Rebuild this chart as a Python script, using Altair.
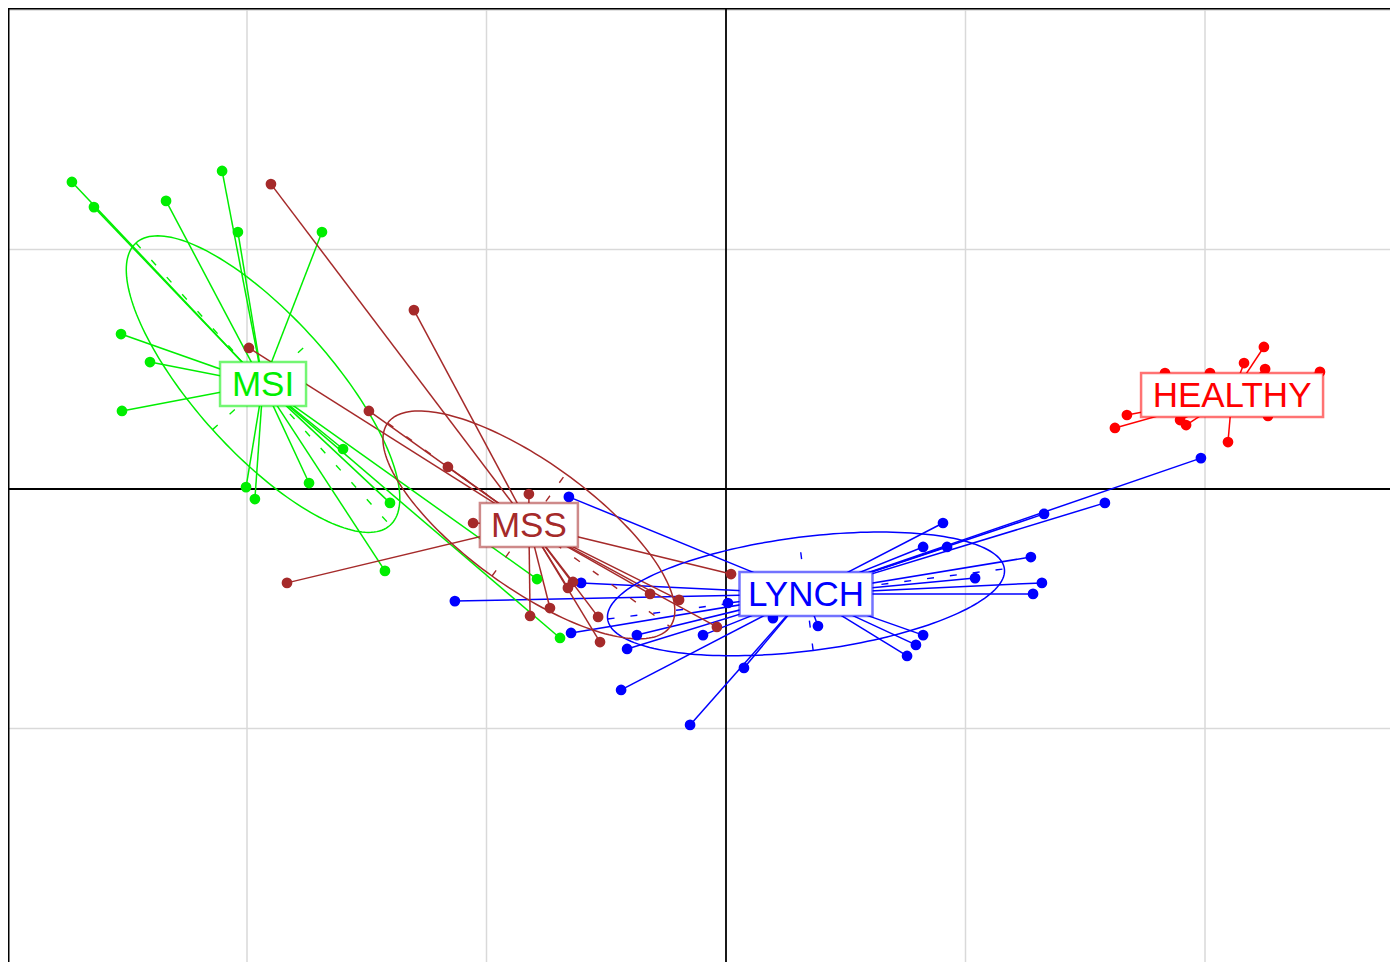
import altair as alt
import pandas as pd
import numpy as np

# ---------------- data (grid step = 1 unit) ----------------
groups = ["HEALTHY", "LYNCH", "MSI", "MSS"]
colors = ["#FF0000", "#0000FF", "#00EE00", "#A52A2A"]

healthy_x = [2.246, 2.163, 2.251, 2.480, 2.021, 1.833, 1.674, 1.624, 1.896, 1.921, 2.096, 2.263]
healthy_y = [0.593, 0.526, 0.501, 0.489, 0.484, 0.484, 0.309, 0.255, 0.288, 0.267, 0.196, 0.305]

lynch_x = [-0.656, 0.906, 0.823, 0.923, 1.328, 1.582, 1.983, 1.273, 1.040, 1.319, 1.282, 0.823, 0.793,
           0.756, 0.384, 0.196, 0.008, 0.075, -0.150, -0.438, -0.096, -0.372, -0.413, -0.647, -1.132, -0.605]
lynch_y = [-0.033, -0.142, -0.242, -0.242, -0.104, -0.058, 0.129, -0.284, -0.372, -0.392, -0.438, -0.610, -0.651,
           -0.697, -0.572, -0.539, -0.476, -0.747, -0.985, -0.839, -0.610, -0.610, -0.668, -0.601, -0.468, -0.392]

msi_x = [-2.731, -2.639, -2.338, -2.104, -2.038, -1.687, -2.526, -2.405, -2.522, -1.599, -1.741, -2.004,
         -1.967, -1.403, -1.424, -0.789, -0.693]
msi_y = [1.282, 1.177, 1.203, 1.328, 1.073, 1.073, 0.647, 0.530, 0.326, 0.167, 0.025, 0.008,
         -0.042, -0.058, -0.342, -0.376, -0.622]

mss_x = [-1.900, -1.303, -1.992, -1.491, -1.161, -0.823, -1.056, -1.833, -0.639, -0.660, -0.735, -0.818,
         -0.534, -0.526, -0.317, -0.196, -0.038, 0.021]
mss_y = [1.273, 0.747, 0.589, 0.326, 0.092, -0.021, -0.142, -0.392, -0.388, -0.413, -0.497, -0.530,
         -0.534, -0.639, -0.438, -0.463, -0.576, -0.355]

# class centres (label positions)
centre_x = [2.113, 0.334, -1.933, -0.823]
centre_y = [0.392, -0.438, 0.438, -0.150]

# ellipses: semi-axes and angle (degrees) for LYNCH, MSI, MSS
ell_groups = ["LYNCH", "MSI", "MSS"]
ell_a = [0.835, 0.793, 0.727]
ell_b = [0.238, 0.284, 0.263]
ell_angle = [7.2, -48.0, -35.8]

grid_x = [-2, -1, 1, 2]
grid_y = [-2, -1, 1, 2]

# ---------------- tables ----------------
pts = {"HEALTHY": (healthy_x, healthy_y), "LYNCH": (lynch_x, lynch_y),
       "MSI": (msi_x, msi_y), "MSS": (mss_x, mss_y)}
rows = []
for gi, g in enumerate(groups):
    xs, ys = pts[g]
    for x, y in zip(xs, ys):
        rows.append({"group": g, "x": x, "y": y, "cx": centre_x[gi], "cy": centre_y[gi]})
df_pts = pd.DataFrame(rows)

ell_rows, ax_rows = [], []
t = np.linspace(0, 2 * np.pi, 181)
for g, a, b, ang in zip(ell_groups, ell_a, ell_b, ell_angle):
    gi = groups.index(g)
    cx, cy = centre_x[gi], centre_y[gi]
    th = np.deg2rad(ang)
    ex = cx + a * np.cos(t) * np.cos(th) - b * np.sin(t) * np.sin(th)
    ey = cy + a * np.cos(t) * np.sin(th) + b * np.sin(t) * np.cos(th)
    for i, (x, y) in enumerate(zip(ex, ey)):
        ell_rows.append({"group": g, "i": i, "x": x, "y": y})
    ux, uy = np.cos(th), np.sin(th)
    vx, vy = -np.sin(th), np.cos(th)
    ax_rows.append({"group": g, "x": cx - a * ux, "y": cy - a * uy, "x2": cx + a * ux, "y2": cy + a * uy})
    ax_rows.append({"group": g, "x": cx - b * vx, "y": cy - b * vy, "x2": cx + b * vx, "y2": cy + b * vy})
df_ell = pd.DataFrame(ell_rows)
df_ax = pd.DataFrame(ax_rows)
df_lab = pd.DataFrame({"group": groups, "cx": centre_x, "cy": centre_y})

# ---------------- scales ----------------
UNIT = 239.5
W, H = 1382, 954
x_dom = [(8 - 726) / UNIT, (8 + W - 726) / UNIT]
y_dom = [(489 - 8 - H) / UNIT, (489 - 8) / UNIT]
xs = alt.Scale(domain=x_dom, nice=False, zero=False)
ys = alt.Scale(domain=y_dom, nice=False, zero=False)
col = alt.Color("group:N", scale=alt.Scale(domain=groups, range=colors), legend=None)

grid_v = alt.Chart(pd.DataFrame({"v": grid_x})).mark_rule(color="#d9d9d9", strokeWidth=1.5).encode(
    x=alt.X("v:Q", scale=xs, axis=None))
grid_h = alt.Chart(pd.DataFrame({"v": grid_y})).mark_rule(color="#d9d9d9", strokeWidth=1.5).encode(
    y=alt.Y("v:Q", scale=ys, axis=None))
zero_v = alt.Chart(pd.DataFrame({"v": [0]})).mark_rule(color="black", strokeWidth=1.8).encode(
    x=alt.X("v:Q", scale=xs, axis=None))
zero_h = alt.Chart(pd.DataFrame({"v": [0]})).mark_rule(color="black", strokeWidth=1.8).encode(
    y=alt.Y("v:Q", scale=ys, axis=None))
frame_l = alt.Chart(pd.DataFrame({"v": [x_dom[0]]})).mark_rule(color="black", strokeWidth=3).encode(
    x=alt.X("v:Q", scale=xs, axis=None))
frame_t = alt.Chart(pd.DataFrame({"v": [y_dom[1]]})).mark_rule(color="black", strokeWidth=3).encode(
    y=alt.Y("v:Q", scale=ys, axis=None))

stars = alt.Chart(df_pts).mark_rule(strokeWidth=1.5).encode(
    x=alt.X("x:Q", scale=xs, axis=None), y=alt.Y("y:Q", scale=ys, axis=None),
    x2="cx:Q", y2="cy:Q", color=col)

ell_axes = alt.Chart(df_ax).mark_rule(strokeWidth=1.4, strokeDash=[7, 16]).encode(
    x=alt.X("x:Q", scale=xs, axis=None), y=alt.Y("y:Q", scale=ys, axis=None),
    x2="x2:Q", y2="y2:Q", color=col)

ellipses = alt.Chart(df_ell).mark_line(strokeWidth=1.5).encode(
    x=alt.X("x:Q", scale=xs, axis=None), y=alt.Y("y:Q", scale=ys, axis=None),
    order="i:Q", detail="group:N", color=col)

points = alt.Chart(df_pts).mark_circle(size=115, opacity=1).encode(
    x=alt.X("x:Q", scale=xs, axis=None), y=alt.Y("y:Q", scale=ys, axis=None), color=col)

box_w = {"HEALTHY": 182, "LYNCH": 133, "MSI": 86, "MSS": 98}
boxes = []
for g in groups:
    boxes.append(
        alt.Chart(df_lab[df_lab.group == g]).mark_rect(
            fill="white", strokeWidth=2.5, strokeOpacity=0.55,
            xOffset=-box_w[g] / 2, x2Offset=box_w[g] / 2, yOffset=-22, y2Offset=22).encode(
            x=alt.X("cx:Q", scale=xs, axis=None), x2="cx:Q",
            y=alt.Y("cy:Q", scale=ys, axis=None), y2="cy:Q",
            stroke=alt.Stroke("group:N", scale=alt.Scale(domain=groups, range=colors), legend=None)))

labels = alt.Chart(df_lab).mark_text(font="Liberation Sans", fontSize=35, baseline="middle",
                                     align="center", dy=1).encode(
    x=alt.X("cx:Q", scale=xs, axis=None), y=alt.Y("cy:Q", scale=ys, axis=None),
    text="group:N", color=col)

chart = alt.layer(grid_v, grid_h, zero_v, zero_h, frame_l, frame_t, stars, ell_axes, ellipses,
                  points, *boxes, labels).properties(
    width=W, height=H, padding=0, autosize=alt.AutoSizeParams(type="none")
).configure_view(stroke=None)

chart.save("out.html", embed_options={"renderer": "svg", "actions": False})
